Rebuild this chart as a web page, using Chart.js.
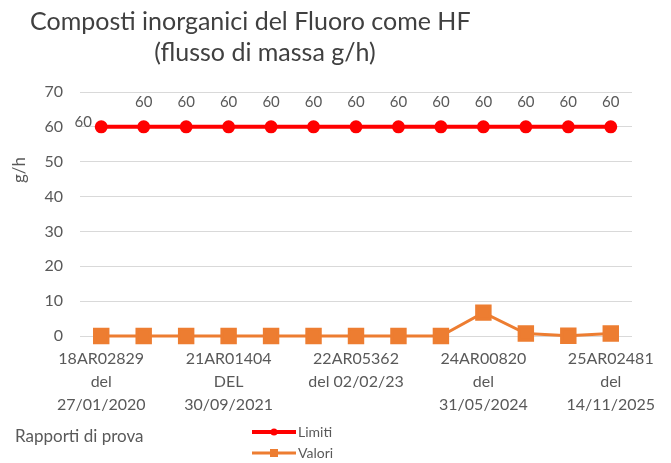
<!DOCTYPE html>
<html>
<head>
<meta charset="utf-8">
<script src="https://cdn.jsdelivr.net/npm/chart.js@4.4.1/dist/chart.umd.min.js"></script>
<style>
  html, body { margin: 0; padding: 0; background: #fff; }
  #wrap { width: 671px; height: 463px; position: relative; }
</style>
</head>
<body>
<div id="wrap"><canvas id="lineChart"></canvas></div>
<script>
// categorie (solo alcune etichette sono visibili nel grafico originale)
var categories = [
  ['18AR02829', 'del', '27/01/2020'], '', '',
  ['21AR01404', 'DEL', '30/09/2021'], '', '',
  ['22AR05362', 'del 02/02/23'], '', '',
  ['24AR00820', 'del', '31/05/2024'], '', '',
  ['25AR02481', 'del', '14/11/2025']
];
var limitiData = [60, 60, 60, 60, 60, 60, 60, 60, 60, 60, 60, 60, 60];
var valoriData = [0, 0, 0, 0, 0, 0, 0, 0, 0, 6.7, 0.7, 0.05, 0.7];
var yTicks = [0, 10, 20, 30, 40, 50, 60, 70];

var titleLines = ['Composti inorganici del Fluoro come HF', '(flusso di massa g/h)'];
var yTitle = 'g/h';
var xTitle = 'Rapporti di prova';

var fontFam = 'Lato, "Open Sans", sans-serif';
var textCol = '#595959';

// etichette "60" sopra la serie Limiti + titoli e legenda disegnati a mano
var extrasPlugin = {
  id: 'extras',
  afterDatasetsDraw: function (chart) {
    var ctx = chart.ctx;
    var meta = chart.getDatasetMeta(0);
    ctx.save();
    ctx.fillStyle = textCol;
    ctx.font = '15px ' + fontFam;
    ctx.textAlign = 'center';
    ctx.textBaseline = 'middle';
    meta.data.forEach(function (pt, i) {
      var v = chart.data.datasets[0].data[i];
      if (i === 0) {
        ctx.fillText(v, pt.x - 18, pt.y - 5);
      } else {
        ctx.fillText(v, pt.x, pt.y - 25);
      }
    });
    ctx.restore();
  },
  afterDraw: function (chart) {
    var ctx = chart.ctx;
    ctx.save();
    // titolo
    ctx.fillStyle = '#404040';
    ctx.font = '25px ' + fontFam;
    ctx.textBaseline = 'middle';
    ctx.textAlign = 'left';
    ctx.fillText(titleLines[0], 30, 22);
    ctx.textAlign = 'center';
    ctx.fillText(titleLines[1], 265, 53);

    // titolo asse y
    ctx.fillStyle = textCol;
    ctx.font = '17px ' + fontFam;
    ctx.save();
    ctx.translate(20, 170);
    ctx.rotate(-Math.PI / 2);
    ctx.textAlign = 'center';
    ctx.fillText(yTitle, 0, 0);
    ctx.restore();

    // titolo asse x
    ctx.textAlign = 'left';
    ctx.font = '17px ' + fontFam;
    ctx.fillText(xTitle, 15, 437);

    // legenda
    var items = chart.data.datasets;
    ctx.font = '14px ' + fontFam;
    items.forEach(function (ds, i) {
      var y = 432 + i * 21;
      ctx.strokeStyle = ds.borderColor;
      ctx.lineWidth = ds.borderWidth;
      ctx.beginPath();
      ctx.moveTo(252, y);
      ctx.lineTo(296, y);
      ctx.stroke();
      ctx.fillStyle = ds.pointBackgroundColor;
      if (ds.pointStyle === 'rect') {
        ctx.fillRect(274 - 4, y - 4, 8, 8);
      } else {
        ctx.beginPath();
        ctx.arc(274, y, 3.5, 0, Math.PI * 2);
        ctx.fill();
      }
      ctx.fillStyle = textCol;
      ctx.textAlign = 'left';
      ctx.fillText(ds.label, 298, y);
    });
    ctx.restore();
  }
};

var lineData = {
  labels: categories,
  datasets: [
    {
      label: 'Limiti',
      data: limitiData,
      borderColor: '#ff0000',
      backgroundColor: '#ff0000',
      pointBackgroundColor: '#ff0000',
      pointBorderColor: '#ff0000',
      borderWidth: 4,
      pointStyle: 'circle',
      pointRadius: 4.5,
      clip: false,
      tension: 0
    },
    {
      label: 'Valori',
      data: valoriData,
      borderColor: '#ed7d31',
      backgroundColor: '#ed7d31',
      pointBackgroundColor: '#ed7d31',
      pointBorderColor: '#ed7d31',
      borderWidth: 3,
      pointStyle: 'rect',
      pointRadius: 9.5,
      clip: false,
      tension: 0
    }
  ]
};

var lineOptions = {
  responsive: true,
  maintainAspectRatio: false,
  animation: false,
  layout: { padding: { top: 92, right: 39, left: 0, bottom: 0 } },
  plugins: {
    legend: { display: false },
    title: { display: false },
    tooltip: { enabled: false }
  },
  scales: {
    x: {
      offset: true,
      grid: { display: false },
      border: { display: false },
      ticks: {
        autoSkip: false,
        maxRotation: 0,
        minRotation: 0,
        padding: 3,
        color: textCol,
        font: { family: fontFam, size: 16, lineHeight: 1.45 }
      },
      afterFit: function (scale) { scale.height = 127; }
    },
    y: {
      min: 0,
      max: 70,
      afterBuildTicks: function (scale) {
        scale.ticks = yTicks.map(function (v) { return { value: v }; });
      },
      grid: { color: '#d9d9d9', lineWidth: 1, drawTicks: false },
      border: { display: false },
      ticks: {
        padding: 17,
        color: textCol,
        font: { family: fontFam, size: 16 }
      },
      afterFit: function (scale) { scale.width = 80; }
    }
  }
};

var ctx = document.getElementById('lineChart').getContext('2d');
new Chart(ctx, { type: 'line', data: lineData, options: lineOptions, plugins: [extrasPlugin] });
</script>
</body>
</html>
